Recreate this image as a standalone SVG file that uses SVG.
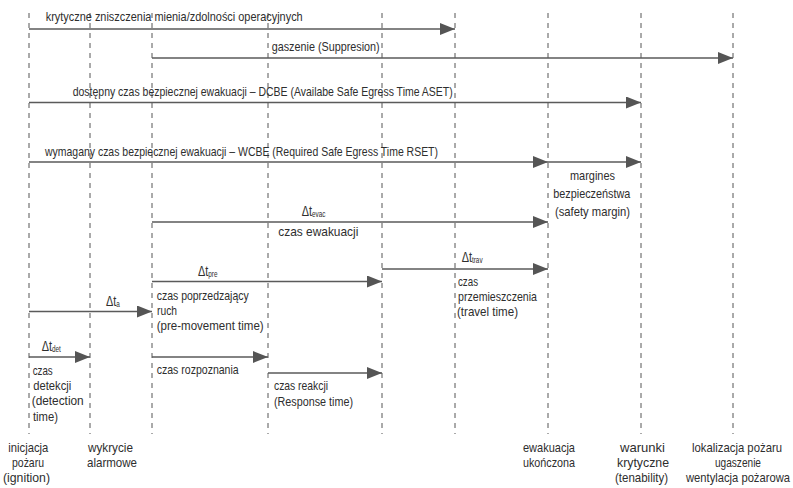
<svg xmlns="http://www.w3.org/2000/svg" width="793" height="488" viewBox="0 0 793 488">
<defs>
<marker id="ah" markerUnits="userSpaceOnUse" markerWidth="16" markerHeight="12" refX="15" refY="6" orient="auto">
<path d="M0,0 L15,6 L0,12 z" fill="#555"/>
</marker>
<style>
.grid line{stroke:#555;stroke-width:1;stroke-dasharray:5,5}
.conn line{stroke:#5a5a5a;stroke-width:1.4;marker-end:url(#ah)}
text{font-family:"Liberation Sans",Arial,sans-serif;font-size:13.4px;fill:#2e2e2e}
.d{font-size:14.5px}
.sub{font-size:8.5px}
</style>
</defs>
<rect width="793" height="488" fill="#fff"/>
<g class="grid" id="timelines">
<line x1="29" y1="13" x2="29" y2="434"/>
<line x1="90" y1="13" x2="90" y2="434"/>
<line x1="152" y1="13" x2="152" y2="434"/>
<line x1="268" y1="13" x2="268" y2="434"/>
<line x1="382" y1="13" x2="382" y2="434"/>
<line x1="455" y1="13" x2="455" y2="434"/>
<line x1="548" y1="13" x2="548" y2="434"/>
<line x1="641" y1="13" x2="641" y2="434"/>
<line x1="733" y1="13" x2="733" y2="434"/>
</g>
<g class="conn" id="connectors">
<line x1="29" y1="29" x2="455" y2="29"/>
<line x1="152" y1="58" x2="733" y2="58"/>
<line x1="29" y1="102.5" x2="641" y2="102.5"/>
<line x1="29" y1="162" x2="548" y2="162"/>
<line x1="548" y1="162" x2="641" y2="162"/>
<line x1="152" y1="222" x2="548" y2="222"/>
<line x1="382" y1="269" x2="548" y2="269"/>
<line x1="152" y1="281.5" x2="382" y2="281.5"/>
<line x1="29" y1="311.5" x2="152" y2="311.5"/>
<line x1="29" y1="357" x2="90" y2="357"/>
<line x1="152" y1="357" x2="268" y2="357"/>
<line x1="268" y1="373" x2="382" y2="373"/>
</g>
<g id="n-krytyczne" transform="scale(0.75,1)"><text x="60.93" y="21" textLength="342.67" lengthAdjust="spacingAndGlyphs">krytyczne zniszczenia mienia/zdolności operacyjnych</text></g>
<g id="n-gaszenie" transform="scale(0.75,1)"><text x="362.27" y="51" textLength="144" lengthAdjust="spacingAndGlyphs">gaszenie (Suppresion)</text></g>
<g id="n-dcbe" transform="scale(0.75,1)"><text x="96.93" y="96" textLength="506.67" lengthAdjust="spacingAndGlyphs">dostępny czas bezpiecznej ewakuacji – DCBE (Availabe Safe Egress Time ASET)</text></g>
<g id="n-wcbe" transform="scale(0.75,1)"><text x="60" y="156" textLength="524" lengthAdjust="spacingAndGlyphs">wymagany czas bezpiecznej ewakuacji – WCBE (Required Safe Egress Time RSET)</text></g>
<g id="n-margin" transform="scale(0.75,1)">
<text x="760" y="180" textLength="60" lengthAdjust="spacingAndGlyphs">margines</text>
<text x="737.73" y="198" textLength="102.67" lengthAdjust="spacingAndGlyphs">bezpieczeństwa</text>
<text x="740" y="216" textLength="100" lengthAdjust="spacingAndGlyphs">(safety margin)</text>
</g>
<g id="n-evac" transform="scale(0.75,1)">
<text class="d" x="402.27" y="216">Δt<tspan class="sub" dy="1">evac</tspan></text>
<text x="371.07" y="236" textLength="106.67" lengthAdjust="spacingAndGlyphs">czas ewakuacji</text>
</g>
<g id="n-trav" transform="scale(0.75,1)">
<text class="d" x="615.6" y="262">Δt<tspan class="sub" dy="1">trav</tspan></text>
<text x="610.67" y="286" textLength="26.67" lengthAdjust="spacingAndGlyphs">czas</text>
<text x="610.67" y="301" textLength="105.33" lengthAdjust="spacingAndGlyphs">przemieszczenia</text>
<text x="609.33" y="316" textLength="81.33" lengthAdjust="spacingAndGlyphs">(travel time)</text>
</g>
<g id="n-pre" transform="scale(0.75,1)">
<text class="d" x="264" y="276">Δt<tspan class="sub" dy="1">pre</tspan></text>
<text x="208.93" y="300" textLength="122.67" lengthAdjust="spacingAndGlyphs">czas poprzedzający</text>
<text x="209.33" y="315" textLength="26.67" lengthAdjust="spacingAndGlyphs">ruch</text>
<text x="208.93" y="330" textLength="142.67" lengthAdjust="spacingAndGlyphs">(pre-movement time)</text>
</g>
<g id="n-a" transform="scale(0.75,1)"><text class="d" x="141.33" y="306">Δt<tspan class="sub" dy="1">a</tspan></text></g>
<g id="n-det" transform="scale(0.75,1)">
<text class="d" x="55.6" y="351">Δt<tspan class="sub" dy="1">det</tspan></text>
<text x="43.6" y="375" textLength="26.67" lengthAdjust="spacingAndGlyphs">czas</text>
<text x="44.4" y="390" textLength="50.67" lengthAdjust="spacingAndGlyphs">detekcji</text>
<text x="42.27" y="405.5" textLength="69.33" lengthAdjust="spacingAndGlyphs">(detection</text>
<text x="44" y="421" textLength="33.33" lengthAdjust="spacingAndGlyphs">time)</text>
</g>
<g id="n-rozpoznania" transform="scale(0.75,1)"><text x="208.93" y="374" textLength="109.33" lengthAdjust="spacingAndGlyphs">czas rozpoznania</text></g>
<g id="n-reakcji" transform="scale(0.75,1)">
<text x="365.33" y="390.5" textLength="72" lengthAdjust="spacingAndGlyphs">czas reakcji</text>
<text x="365.33" y="406" textLength="105.33" lengthAdjust="spacingAndGlyphs">(Response time)</text>
</g>
<g id="n-inicjacja" transform="scale(0.75,1)">
<text x="11.07" y="452" textLength="53.33" lengthAdjust="spacingAndGlyphs">inicjacja</text>
<text x="16" y="467" textLength="42.67" lengthAdjust="spacingAndGlyphs">pożaru</text>
<text x="4" y="482" textLength="62.67" lengthAdjust="spacingAndGlyphs">(ignition)</text>
</g>
<g id="n-wykrycie" transform="scale(0.75,1)">
<text x="117.33" y="452" textLength="60" lengthAdjust="spacingAndGlyphs">wykrycie</text>
<text x="116" y="467" textLength="66.67" lengthAdjust="spacingAndGlyphs">alarmowe</text>
</g>
<g id="n-ewakuacja" transform="scale(0.75,1)">
<text x="697.33" y="452" textLength="69.33" lengthAdjust="spacingAndGlyphs">ewakuacja</text>
<text x="697.33" y="467" textLength="69.33" lengthAdjust="spacingAndGlyphs">ukończona</text>
</g>
<g id="n-warunki" transform="scale(0.75,1)">
<text x="826.67" y="452" textLength="60" lengthAdjust="spacingAndGlyphs">warunki</text>
<text x="822.67" y="467" textLength="69.33" lengthAdjust="spacingAndGlyphs">krytyczne</text>
<text x="820" y="482" textLength="70.67" lengthAdjust="spacingAndGlyphs">(tenability)</text>
</g>
<g id="n-lokalizacja" transform="scale(0.75,1)">
<text x="922.67" y="452" textLength="120" lengthAdjust="spacingAndGlyphs">lokalizacja pożaru</text>
<text x="953.33" y="467" textLength="61.33" lengthAdjust="spacingAndGlyphs">ugaszenie</text>
<text x="914.67" y="482" textLength="138.67" lengthAdjust="spacingAndGlyphs">wentylacja pożarowa</text>
</g>
</svg>
